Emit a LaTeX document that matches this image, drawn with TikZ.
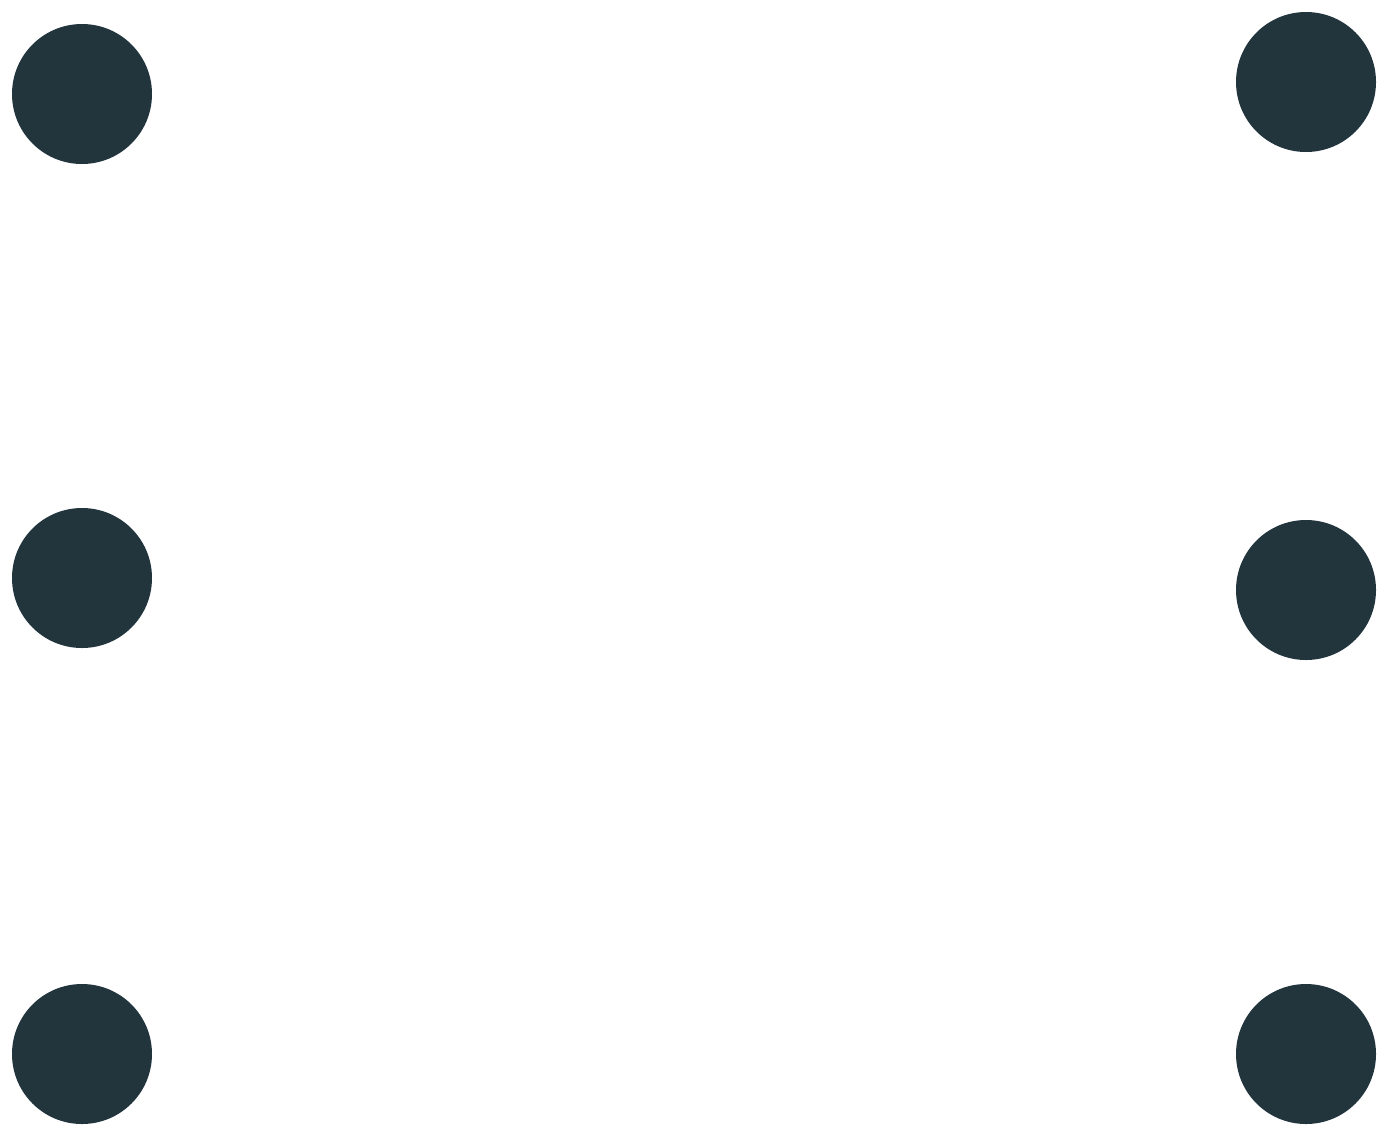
\documentclass[tikz,border=0pt]{standalone}
\definecolor{dot}{HTML}{22343C}
\tikzset{dotnode/.style={circle,fill=dot,draw=none,minimum size=140pt,inner sep=0pt}}
\begin{document}
\begin{tikzpicture}[x=1pt,y=-1pt]
\useasboundingbox (0,0) rectangle (1388,1136);
\node[dotnode] (l1) at (82,94) {};
\node[dotnode] (l2) at (82,578) {};
\node[dotnode] (l3) at (82,1054) {};
\node[dotnode] (r1) at (1306,82) {};
\node[dotnode] (r2) at (1306,590) {};
\node[dotnode] (r3) at (1306,1054) {};
\end{tikzpicture}
\end{document}
